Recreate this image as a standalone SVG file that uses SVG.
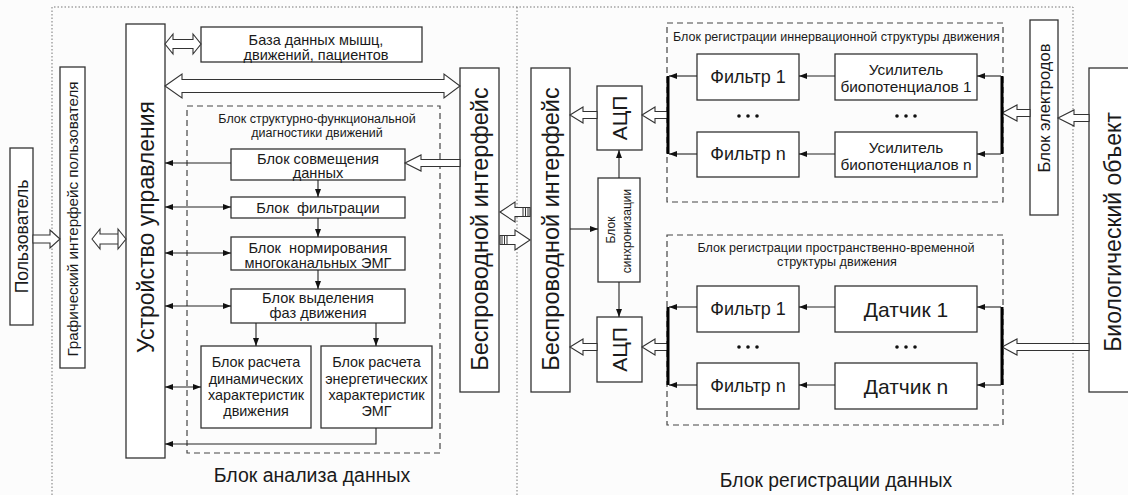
<svg xmlns="http://www.w3.org/2000/svg" width="1128" height="495" viewBox="0 0 1128 495">
<style>
text{font-family:"Liberation Sans",Arial,sans-serif;fill:#1a1a1a}
.box{fill:#fff;stroke:#333;stroke-width:1.3}
.dash{fill:none;stroke:#444;stroke-width:1.2;stroke-dasharray:6,4}
.dot{fill:none;stroke:#777;stroke-width:1;stroke-dasharray:1.5,2}
.ln{fill:none;stroke:#222;stroke-width:1.1}
.hol{fill:#fff;stroke:#333;stroke-width:1.1;stroke-linejoin:miter}
.bar{stroke:#000;stroke-width:3}
.c{text-anchor:middle}
.v{text-anchor:middle;dominant-baseline:central}
.stripe{stroke:#333;stroke-width:1}
</style>
<defs>
<marker id="ah" viewBox="0 0 8 8" refX="8" refY="4" markerWidth="8" markerHeight="8" markerUnits="userSpaceOnUse" orient="auto-start-reverse">
<path d="M0,1 L8,4 L0,7 Z" fill="#111"/>
</marker>
</defs>
<rect width="1128" height="495" fill="#fcfcfc"/>

<g id="frame">
<path class="dot" d="M52,495 V7 H1073 V495 M517,7 V495"/>
</g>

<g id="user"><rect class="box" x="10" y="148" width="23" height="177"/>
<text class="v" font-size="17.5" transform="translate(21.5,236.5) rotate(-90)">Пользователь</text></g>

<g id="gui"><rect class="box" x="60" y="67" width="25" height="301"/>
<text class="v" font-size="15.2" transform="translate(72.5,219) rotate(-90)">Графический интерфейс пользователя</text></g>

<g id="control"><rect class="box" x="126" y="24" width="39" height="434"/>
<text class="v" font-size="23" transform="translate(146,227) rotate(-90)">Устройство управления</text></g>

<g id="db"><rect class="box" x="201" y="27" width="221" height="35"/>
<text class="c" font-size="14.5" x="316" y="44.5">База данных мышц,</text>
<text class="c" font-size="14.5" x="316" y="59.5">движений, пациентов</text></g>

<g id="diag"><rect class="dash" x="187" y="106" width="253" height="347"/>
<text class="c" font-size="12.5" x="317" y="123">Блок структурно-функциональной</text>
<text class="c" font-size="12.5" x="317" y="137">диагностики движений</text></g>

<g id="merge"><rect class="box" x="231" y="149" width="174" height="31"/>
<text class="c" font-size="14.6" x="318" y="164">Блок совмещения</text>
<text class="c" font-size="14.6" x="318" y="178">данных</text></g>

<g id="filt"><rect class="box" x="231" y="197" width="174" height="21"/>
<text class="c" font-size="14.6" x="318" y="213" xml:space="preserve">Блок  фильтрации</text></g>

<g id="norm"><rect class="box" x="231" y="237" width="174" height="33"/>
<text class="c" font-size="14.6" x="318" y="253" xml:space="preserve">Блок  нормирования</text>
<text class="c" font-size="14.6" x="318" y="268">многоканальных ЭМГ</text></g>

<g id="phase"><rect class="box" x="231" y="289" width="174" height="34"/>
<text class="c" font-size="14.6" x="318" y="303">Блок выделения</text>
<text class="c" font-size="14.6" x="318" y="318">фаз движения</text></g>

<g id="dyn"><rect class="box" x="201" y="346" width="110" height="82"/>
<text class="c" font-size="14.4" x="256" y="367">Блок расчета</text>
<text class="c" font-size="14.4" x="256" y="384">динамических</text>
<text class="c" font-size="14.4" x="256" y="400">характеристик</text>
<text class="c" font-size="14.4" x="256" y="416">движения</text></g>

<g id="energy"><rect class="box" x="321" y="346" width="111" height="82"/>
<text class="c" font-size="14.4" x="376.5" y="367">Блок расчета</text>
<text class="c" font-size="14.4" x="376.5" y="384">энергетических</text>
<text class="c" font-size="14.4" x="376.5" y="400">характеристик</text>
<text class="c" font-size="14.4" x="376.5" y="416">ЭМГ</text></g>

<text class="c" font-size="19.5" x="312" y="482">Блок анализа данных</text>

<g id="wl1"><rect class="box" x="460" y="68" width="39" height="324"/>
<text class="v" font-size="23.5" transform="translate(480,229) rotate(-90)">Беспроводной интерфейс</text></g>

<g id="wl2"><rect class="box" x="531" y="68" width="39" height="324"/>
<text class="v" font-size="23.5" transform="translate(551,229) rotate(-90)">Беспроводной интерфейс</text></g>

<g id="adc1"><rect class="box" x="597" y="86" width="45" height="64"/>
<text class="v" font-size="21" transform="translate(619.5,118) rotate(-90)">АЦП</text></g>

<g id="sync"><rect class="box" x="598" y="178" width="42" height="104"/>
<text class="v" font-size="12" transform="translate(611,230) rotate(-90)">Блок</text>
<text class="v" font-size="12" transform="translate(627,231) rotate(-90)">синхронизации</text></g>

<g id="adc2"><rect class="box" x="597" y="317" width="45" height="65"/>
<text class="v" font-size="21" transform="translate(619.5,349.5) rotate(-90)">АЦП</text></g>

<g id="innerv"><rect class="dash" x="667" y="23" width="336" height="179"/>
<text font-size="12.5" x="673" y="41">Блок регистрации иннервационной структуры движения</text></g>

<g id="f1a"><rect class="box" x="697" y="54" width="102" height="46"/>
<text class="c" font-size="18" x="748" y="83">Фильтр 1</text></g>
<g id="fna"><rect class="box" x="697" y="132" width="102" height="45"/>
<text class="c" font-size="18" x="748" y="160">Фильтр n</text></g>
<g id="amp1"><rect class="box" x="835" y="54" width="142" height="46"/>
<text class="c" font-size="15.4" x="906" y="75">Усилитель</text>
<text class="c" font-size="15.4" x="906" y="92">биопотенциалов 1</text></g>
<g id="ampn"><rect class="box" x="835" y="132" width="142" height="45"/>
<text class="c" font-size="15.4" x="906" y="153">Усилитель</text>
<text class="c" font-size="15.4" x="906" y="170">биопотенциалов n</text></g>

<g id="spatial"><rect class="dash" x="667" y="235" width="336" height="190"/>
<text class="c" font-size="12.6" x="836" y="252">Блок регистрации пространственно-временной</text>
<text class="c" font-size="12.6" x="837" y="266">структуры движения</text></g>

<g id="f1b"><rect class="box" x="697" y="286" width="102" height="46"/>
<text class="c" font-size="18" x="748" y="315">Фильтр 1</text></g>
<g id="fnb"><rect class="box" x="697" y="363" width="102" height="46"/>
<text class="c" font-size="18" x="748" y="392">Фильтр n</text></g>
<g id="s1"><rect class="box" x="835" y="286" width="142" height="46"/>
<text class="c" font-size="21" x="906" y="317">Датчик 1</text></g>
<g id="sn"><rect class="box" x="835" y="363" width="142" height="46"/>
<text class="c" font-size="21" x="906" y="394">Датчик n</text></g>

<g id="dots" fill="#111">
<circle cx="739" cy="116" r="1.8"/><circle cx="748" cy="116" r="1.8"/><circle cx="757" cy="116" r="1.8"/>
<circle cx="897" cy="116" r="1.8"/><circle cx="906" cy="116" r="1.8"/><circle cx="915" cy="116" r="1.8"/>
<circle cx="739" cy="347" r="1.8"/><circle cx="748" cy="347" r="1.8"/><circle cx="757" cy="347" r="1.8"/>
<circle cx="897" cy="347" r="1.8"/><circle cx="906" cy="347" r="1.8"/><circle cx="915" cy="347" r="1.8"/>
</g>

<g id="electrodes"><rect class="box" x="1030" y="20" width="28" height="195"/>
<text class="v" font-size="16.5" transform="translate(1044,108) rotate(-90)">Блок электродов</text></g>

<g id="bio"><rect class="box" x="1089" y="68" width="50" height="324"/>
<text class="v" font-size="23" transform="translate(1113,232) rotate(-90)">Биологический объект</text></g>

<text class="c" font-size="19.3" x="836" y="487">Блок регистрации данных</text>

<g id="connectors">
<path class="hol" d="M60,239 L50,230 L50,235 L33,235 L33,243 L50,243 L50,248 Z"/>
<path class="hol" d="M92,239 L100,229 L100,234 L118,234 L118,244 L100,244 L100,249 Z M126,239 L118,229 L118,249 Z"/>
<path class="hol" d="M165,44 L173,34 L173,39.5 L193,39.5 L193,34 L201,44 L193,54 L193,48.5 L173,48.5 L173,54 Z"/>
<path class="hol" d="M165,86 L182,74 L182,79.5 L444,79.5 L444,74 L460,86 L444,98 L444,92.5 L182,92.5 L182,98 Z"/>
<path class="hol" d="M405,163 L421,155 L421,159.5 L460,159.5 L460,166.5 L421,166.5 L421,171 Z"/>
<path class="hol" d="M500,212 L515,202 L515,207.5 L530,207.5 L530,216.5 L515,216.5 L515,222 Z"/>
<path class="stripe" d="M523,207.5 V216.5 M525.5,207.5 V216.5 M528,207.5 V216.5"/>
<path class="hol" d="M530,240 L515,230 L515,235.5 L500,235.5 L500,244.5 L515,244.5 L515,250 Z"/>
<path class="stripe" d="M502,235.5 V244.5 M504.5,235.5 V244.5 M507,235.5 V244.5"/>
<path class="hol" d="M570,115 L583,107 L583,111.5 L597,111.5 L597,118.5 L583,118.5 L583,123 Z"/>
<path class="hol" d="M642,115 L655,107 L655,111.5 L668,111.5 L668,118.5 L655,118.5 L655,123 Z"/>
<path class="hol" d="M570,347 L583,339 L583,343.5 L597,343.5 L597,350.5 L583,350.5 L583,355 Z"/>
<path class="hol" d="M642,347 L655,339 L655,343.5 L668,343.5 L668,350.5 L655,350.5 L655,355 Z"/>
<path class="hol" d="M1002,113 L1017,105 L1017,109.5 L1030,109.5 L1030,116.5 L1017,116.5 L1017,121 Z"/>
<path class="hol" d="M1058,118 L1074,110 L1074,114.5 L1089,114.5 L1089,121.5 L1074,121.5 L1074,126 Z"/>
<path class="hol" d="M1002,347 L1017,339 L1017,343.5 L1089,343.5 L1089,350.5 L1017,350.5 L1017,355 Z"/>
<path class="bar" d="M668,76 V154 M1002,76 V154 M668,307 V385 M1002,307 V385"/>
<path class="ln" marker-end="url(#ah)" d="M231,163 H165"/>
<path class="ln" marker-start="url(#ah)" marker-end="url(#ah)" d="M165,207 H231"/>
<path class="ln" marker-start="url(#ah)" marker-end="url(#ah)" d="M165,253 H231"/>
<path class="ln" marker-start="url(#ah)" marker-end="url(#ah)" d="M165,306 H231"/>
<path class="ln" marker-start="url(#ah)" marker-end="url(#ah)" d="M165,387 H201"/>
<path class="ln" marker-end="url(#ah)" d="M376,428 V444 H165"/>
<path class="ln" marker-end="url(#ah)" d="M318,180 V197"/>
<path class="ln" marker-end="url(#ah)" d="M318,218 V237"/>
<path class="ln" marker-end="url(#ah)" d="M318,270 V289"/>
<path class="ln" marker-end="url(#ah)" d="M256,323 V346"/>
<path class="ln" marker-end="url(#ah)" d="M376,323 V346"/>
<path class="ln" marker-end="url(#ah)" d="M570,229 H598"/>
<path class="ln" marker-end="url(#ah)" d="M619,178 V150"/>
<path class="ln" marker-end="url(#ah)" d="M619,282 V317"/>
<path class="ln" marker-end="url(#ah)" d="M697,76 H669"/>
<path class="ln" marker-end="url(#ah)" d="M697,154 H669"/>
<path class="ln" marker-end="url(#ah)" d="M835,76 H799"/>
<path class="ln" marker-end="url(#ah)" d="M835,154 H799"/>
<path class="ln" marker-end="url(#ah)" d="M1001,76 H977"/>
<path class="ln" marker-end="url(#ah)" d="M1001,154 H977"/>
<path class="ln" marker-end="url(#ah)" d="M697,307 H669"/>
<path class="ln" marker-end="url(#ah)" d="M697,385 H669"/>
<path class="ln" marker-end="url(#ah)" d="M835,307 H799"/>
<path class="ln" marker-end="url(#ah)" d="M835,385 H799"/>
<path class="ln" marker-end="url(#ah)" d="M1001,307 H977"/>
<path class="ln" marker-end="url(#ah)" d="M1001,385 H977"/>
</g>
</svg>
